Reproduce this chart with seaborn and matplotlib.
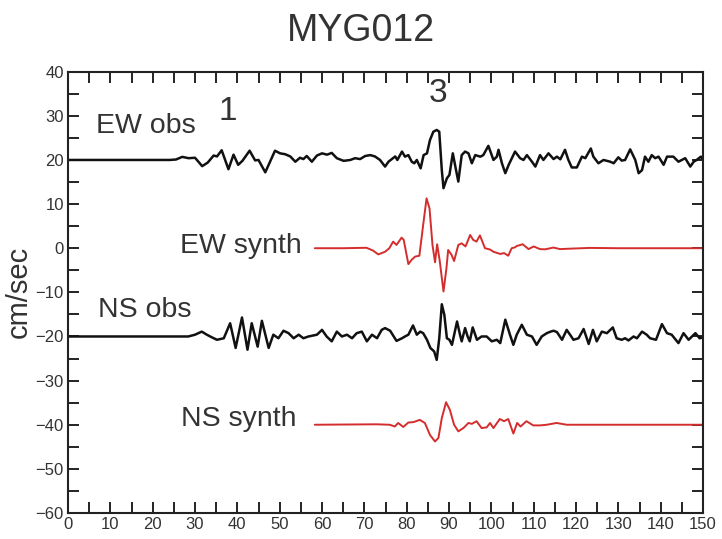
import matplotlib
matplotlib.use("Agg")
import matplotlib.pyplot as plt
from matplotlib.ticker import MultipleLocator
import pandas as pd
import seaborn as sns

# ---- station MYG012 velocity records (cm/sec), traces stacked with offsets ----
ew_obs_t = [0, 24, 25.5, 27, 28.5, 30, 31.7, 33, 34.4, 35.2, 36.3, 37.9, 39.1, 40.2,
            41.2, 42.9, 44.2, 45.0, 46.6, 48.9, 50.1, 51.3, 52.5, 53.7, 54.8, 55.6,
            56.4, 57.6, 58.8, 60.0, 61.2, 62.3, 63.5, 65.1, 66.7, 67.8, 69.0, 70.2,
            71.4, 72.5, 73.7, 74.9, 75.7, 77.3, 77.8, 78.9, 79.6, 80.4, 81.2, 81.8,
            82.4, 83.3, 84.0, 84.8, 85.5, 86.3, 87.1, 87.7, 88.3, 88.7, 89.5, 90.1,
            90.9, 91.5, 92.2, 93.0, 93.8, 94.6, 95.4, 96.2, 97.4, 98.1, 99.3, 100.5,
            101.3, 101.7, 102.5, 103.3, 104.1, 105.6, 106.8, 107.6, 108.4, 109.6,
            110.4, 111.5, 112.3, 113.5, 114.7, 115.5, 116.3, 117.4, 118.2, 119.0,
            120.2, 121.4, 122.2, 123.5, 124.1, 125.3, 126.5, 128.1, 128.9, 130.0,
            130.8, 131.6, 132.8, 134.0, 134.8, 135.6, 136.3, 137.1, 137.9, 138.7,
            139.5, 140.7, 141.5, 143.0, 144.2, 145.0, 145.8, 147.0, 147.8, 148.5,
            149.5, 150.0]
ew_obs_v = [20.0, 20.0, 20.1, 20.7, 20.4, 20.5, 18.6, 19.4, 21.0, 20.8, 22.2, 17.9,
            21.2, 18.9, 19.8, 22.1, 19.9, 20.0, 17.2, 22.1, 21.5, 21.3, 20.8, 19.6,
            20.5, 20.2, 20.9, 19.6, 21.0, 21.5, 21.2, 21.6, 20.4, 19.8, 20.0, 20.4,
            20.2, 20.9, 21.1, 20.8, 20.0, 18.5, 19.6, 20.8, 20.0, 21.9, 20.75, 21.1,
            19.6, 19.25, 20.0, 18.1, 21.1, 21.5, 24.5, 26.4, 26.8, 26.4, 17.7, 13.6,
            15.85, 16.6, 21.5, 18.5, 15.1, 21.1, 21.9, 21.5, 19.25, 21.1, 20.75, 21.1,
            23.2, 20.0, 20.75, 22.3, 19.25, 17.0, 18.9, 21.9, 20.4, 20.0, 21.1, 19.6,
            18.5, 21.1, 20.0, 21.5, 20.2, 20.75, 20.15, 22.3, 20.0, 18.3, 18.3, 20.75,
            20.4, 22.6, 20.75, 19.25, 20.0, 19.6, 19.25, 20.6, 19.85, 20.0, 22.4, 20.0,
            17.0, 17.7, 20.75, 19.6, 21.1, 20.4, 20.75, 18.9, 20.75, 20.75, 19.6, 20.0,
            20.4, 18.5, 19.6, 20.0, 20.75, 20.15]

ew_syn_t = [58.3, 65.0, 70.5, 72.0, 73.3, 74.9, 75.9, 76.8, 77.6, 78.8, 79.3, 80.4,
            81.2, 82.0, 83.0, 83.9, 84.7, 85.4, 86.1, 86.7, 87.2, 87.8, 88.7, 89.4,
            89.8, 90.6, 91.2, 92.2, 93.0, 93.9, 95.0, 95.7, 96.5, 97.3, 98.5, 99.7,
            100.5, 102.1, 103.0, 104.0, 104.8, 105.6, 106.0, 107.4, 108.8, 110.0,
            111.5, 112.7, 114.7, 116.2, 118.6, 123.3, 130.0, 150.0]
ew_syn_v = [0.0, 0.0, 0.1, -0.5, -1.4, -0.8, 0.0, 1.5, 0.75, 2.4, 1.9, -3.6, -2.6,
            -1.9, -1.7, 5.3, 11.3, 9.0, 0.75, -3.2, 0.9, -2.8, -9.8, -4.5, -0.4, -1.5,
            -2.9, 0.75, 1.1, 0.4, 3.0, 1.9, 1.5, 2.9, 0.0, -0.3, -0.8, -1.3, -1.1, -1.7,
            0.0, 0.2, 0.5, 0.9, -0.2, 0.4, -0.2, -0.25, 0.15, -0.2, -0.1, 0.07, 0.0, 0.0]

ns_obs_t = [0, 20, 26.5, 28.4, 30.0, 31.6, 32.8, 34.0, 35.2, 36.8, 38.3, 39.6, 41.1,
            42.4, 43.4, 44.8, 45.8, 47.4, 48.5, 49.7, 50.9, 52.1, 53.3, 54.5, 55.6,
            56.8, 58.8, 60.0, 61.1, 62.3, 63.5, 64.7, 65.9, 67.1, 68.2, 69.4, 70.6,
            71.8, 73.0, 74.1, 74.9, 76.1, 77.6, 78.9, 79.6, 80.4, 81.5, 82.4, 83.2,
            83.9, 84.8, 85.6, 86.5, 87.1, 87.7, 88.3, 88.9, 89.5, 90.1, 90.7, 91.9,
            92.6, 93.0, 93.8, 94.4, 94.9, 95.6, 96.6, 97.7, 98.9, 100.1, 101.3, 102.1,
            103.3, 104.4, 105.2, 106.0, 107.2, 108.4, 109.6, 110.7, 111.9, 113.1,
            114.0, 114.7, 115.5, 116.7, 117.8, 118.6, 119.4, 120.6, 121.8, 123.0,
            124.0, 124.9, 126.1, 127.3, 128.7, 129.6, 130.8, 131.6, 132.4, 133.6,
            134.4, 135.6, 136.7, 137.5, 138.9, 140.3, 141.5, 142.6, 144.2, 145.4,
            146.6, 148.2, 149.2, 150.0]
ns_obs_v = [-20.0, -20.0, -20.0, -20.0, -19.6, -18.9, -19.6, -20.2, -20.75, -20.4,
            -17.0, -22.6, -15.7, -23.0, -17.0, -22.3, -16.45, -22.6, -19.6, -20.4,
            -18.7, -19.25, -20.4, -19.6, -20.4, -20.0, -19.6, -18.5, -20.0, -21.1,
            -18.9, -20.0, -19.6, -20.4, -19.25, -18.9, -21.1, -19.6, -20.4, -18.5,
            -18.1, -18.7, -21.0, -20.4, -20.0, -19.6, -17.5, -19.6, -18.9, -19.25,
            -20.75, -22.6, -23.4, -25.3, -20.4, -12.7, -15.1, -20.4, -20.75, -21.9,
            -16.6, -19.6, -21.1, -18.1, -20.0, -21.1, -17.95, -20.75, -20.0, -20.0,
            -21.1, -20.75, -21.5, -16.2, -19.6, -21.9, -19.6, -17.35, -19.6, -20.0,
            -21.9, -20.0, -19.25, -18.9, -18.7, -19.0, -20.75, -18.5, -19.6, -20.75,
            -20.4, -18.3, -21.7, -18.5, -21.1, -18.9, -19.25, -17.95, -20.4, -20.75,
            -20.4, -20.9, -20.0, -20.4, -18.9, -19.6, -20.4, -20.75, -17.2, -19.25,
            -19.6, -21.5, -19.25, -20.75, -19.25, -20.4, -20.2]

ns_syn_t = [58.3, 72.9, 76.0, 77.2, 78.0, 79.2, 80.4, 81.6, 83.1, 84.3, 85.5, 86.7,
            87.5, 88.3, 89.3, 90.2, 91.2, 92.2, 93.4, 94.6, 95.4, 96.5, 97.7, 98.9,
            99.7, 100.5, 102.0, 103.0, 104.0, 105.2, 106.1, 106.9, 108.3, 109.9,
            111.5, 113.1, 115.4, 117.8, 121.7, 150.0]
ns_syn_v = [-40.0, -39.9, -40.0, -40.4, -39.6, -40.5, -39.5, -39.4, -38.9, -39.6,
            -42.3, -43.8, -43.0, -38.5, -34.9, -36.6, -40.0, -41.5, -40.75, -39.6,
            -39.8, -39.2, -40.75, -40.6, -39.6, -40.75, -38.7, -39.2, -38.7, -42.0,
            -39.6, -40.4, -39.2, -40.15, -40.15, -40.0, -39.6, -40.0, -40.0, -40.0]

OBS_COLOR = "#111111"
SYN_COLOR = "#d42d2d"
TEXT_COLOR = "#333333"

sns.set_theme(style="ticks")
plt.rcParams["font.family"] = ["Liberation Sans", "DejaVu Sans"]

fig = plt.figure(figsize=(7.22, 5.39), dpi=100)
ax = fig.add_axes([68 / 722, 1 - 513 / 539, 635 / 722, (513 - 71.7) / 539])

traces = [
    (ew_obs_t, ew_obs_v, OBS_COLOR, 1.8),
    (ew_syn_t, ew_syn_v, SYN_COLOR, 1.4),
    (ns_obs_t, ns_obs_v, OBS_COLOR, 1.8),
    (ns_syn_t, ns_syn_v, SYN_COLOR, 1.4),
]
for t, v, c, lw in traces:
    df = pd.DataFrame({"time": t, "vel": v})
    sns.lineplot(data=df, x="time", y="vel", color=c, linewidth=lw,
                 estimator=None, sort=False, ax=ax,
                 solid_joinstyle="round", solid_capstyle="round")

ax.set_xlim(0, 150)
ax.set_ylim(-60, 40)
ax.xaxis.set_major_locator(MultipleLocator(10))
ax.xaxis.set_minor_locator(MultipleLocator(5))
ax.yaxis.set_major_locator(MultipleLocator(10))
ax.yaxis.set_minor_locator(MultipleLocator(5))
ax.tick_params(which="both", direction="in", top=True, right=True,
               length=8, width=1.4, color="#222222")
ax.tick_params(axis="both", which="major", labelsize=12, pad=3, labelcolor=TEXT_COLOR)
for sp in ax.spines.values():
    sp.set_linewidth(1.5)
    sp.set_color("#222222")

ax.set_xlabel("")
ax.set_ylabel("cm/sec", fontsize=21, color=TEXT_COLOR, labelpad=2)
fig.suptitle("MYG012", fontsize=27, color=TEXT_COLOR, y=0.975)

txt = dict(color=TEXT_COLOR, fontsize=20.5)
ax.text(6.6, 27.6, "EW obs", ha="left", va="center", **txt)
ax.text(55.3, 0.6, "EW synth", ha="right", va="center", **txt)
ax.text(7.0, -14.0, "NS obs", ha="left", va="center", **txt)
ax.text(54.0, -38.6, "NS synth", ha="right", va="center", **txt)
ax.text(37.8, 31.0, "1", ha="center", va="center", color=TEXT_COLOR, fontsize=24)
ax.text(87.4, 35.0, "3", ha="center", va="center", color=TEXT_COLOR, fontsize=24)

fig.savefig("out.png", dpi=100)
